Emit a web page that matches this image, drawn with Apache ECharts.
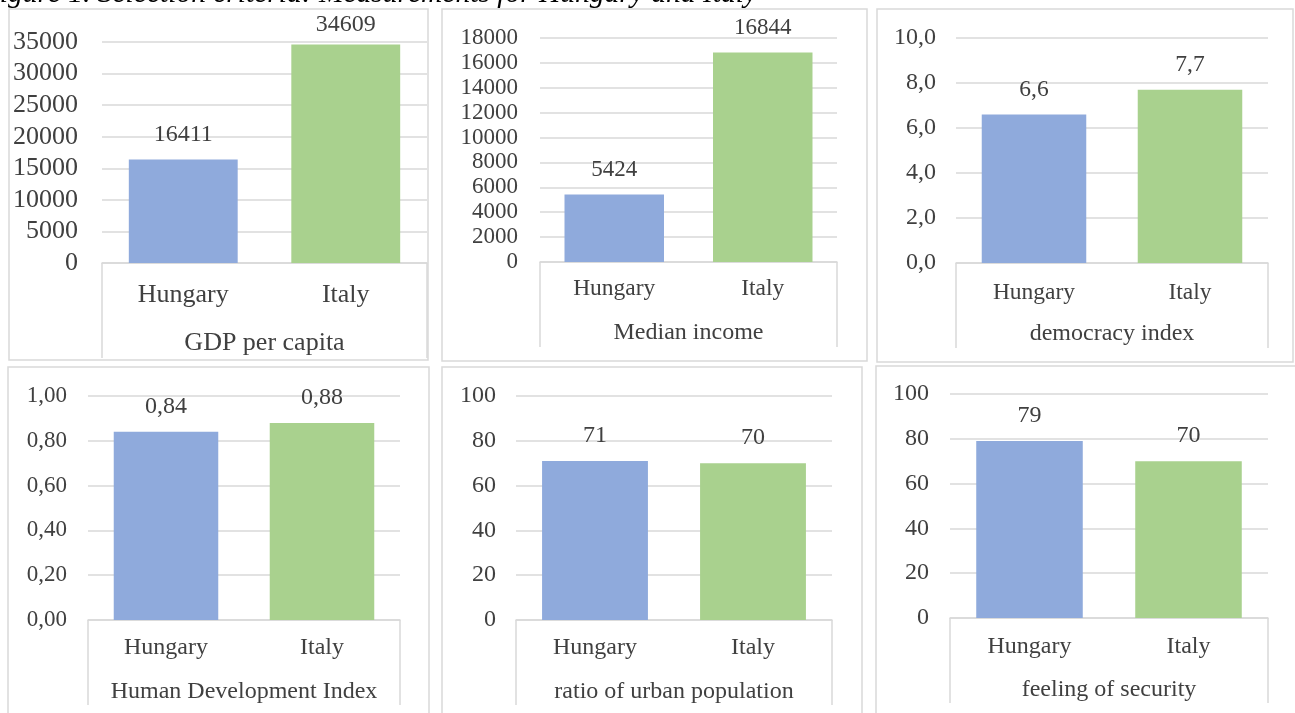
<!DOCTYPE html>
<html>
<head>
<meta charset="utf-8">
<script src="https://cdn.jsdelivr.net/npm/echarts@6/dist/echarts.min.js"></script>
<style>
html,body{margin:0;padding:0;background:#fff;}
#chart{width:1295px;height:713px;}
</style>
</head>
<body>
<div id="chart"></div>
<script>
// ---- data ----
const categories = ['Hungary', 'Italy'];
const gdpPerCapita = [16411, 34609];
const medianIncome = [5424, 16844];
const democracyIndex = [6.6, 7.7];
const humanDevelopmentIndex = [0.84, 0.88];
const urbanPopulationRatio = [71, 70];
const feelingOfSecurity = [79, 70];
const panelTitles = ['GDP per capita', 'Median income', 'democracy index',
  'Human Development Index', 'ratio of urban population', 'feeling of security'];
const axisMax = [35000, 18000, 10, 1, 100, 100];
const axisInterval = [5000, 2000, 2, 0.2, 20, 20];
const labelDecimals = [0, 0, 1, 2, 0, 0];
const figureCaption = 'Figure 1. Selection criteria: Measurements for Hungary and Italy';

const seriesValues = [gdpPerCapita, medianIncome, democracyIndex,
  humanDevelopmentIndex, urbanPopulationRatio, feelingOfSecurity];

// ---- layout (positions / styles) ----
const barColors = ['#8FAADC', '#A9D18E'];
const textColor = '#404040';
const lineColor = '#D9D9D9';
const font = 'Liberation Serif';
const layout = [
  {gx0:102, gx1:427, gy0:42, gy1:263, box:[9,9,428,360], lineBottom:358, yFs:26, xFs:26, nameFs:26, valFs:24, yMargin:24, xMargin:19, nameGap:67},
  {gx0:540, gx1:837, gy0:38, gy1:262, box:[442,9,867,361], lineBottom:347, yFs:23, xFs:23.5, nameFs:24, valFs:23, yMargin:22, xMargin:15, nameGap:59},
  {gx0:956, gx1:1268, gy0:38, gy1:263, box:[877,9,1293,362], lineBottom:348, yFs:24, xFs:23.5, nameFs:24, valFs:23.5, yMargin:20, xMargin:18, nameGap:59},
  {gx0:88, gx1:400, gy0:396, gy1:620, box:[8,367,429,722], lineBottom:705, yFs:23, xFs:24, nameFs:24, valFs:24, yMargin:21, xMargin:16, nameGap:60},
  {gx0:516, gx1:832, gy0:396, gy1:620, box:[442,367,862,722], lineBottom:705, yFs:24, xFs:24, nameFs:24, valFs:24, yMargin:20, xMargin:16, nameGap:60},
  {gx0:950, gx1:1268, gy0:394, gy1:618, box:[876,366,1302,722], lineBottom:703, yFs:24, xFs:24, nameFs:24, valFs:24, yMargin:21, xMargin:17, nameGap:60}
];

function fmt(v, d) { return Number(v).toFixed(d).replace('.', ','); }

const grids = [], xAxes = [], yAxes = [], series = [], graphics = [];

layout.forEach((L, i) => {
  grids.push({left: L.gx0, top: L.gy0, width: L.gx1 - L.gx0, height: L.gy1 - L.gy0,
    containLabel: false, outerBoundsMode: 'none'});
  xAxes.push({
    type: 'category', gridIndex: i, data: categories,
    axisLine: {show: true, lineStyle: {color: lineColor, width: 1.5}},
    axisTick: {show: false},
    splitLine: {show: false},
    axisLabel: {fontFamily: font, fontSize: L.xFs, color: textColor, margin: L.xMargin},
    name: panelTitles[i], nameLocation: 'middle', nameGap: L.nameGap,
    nameTextStyle: {fontFamily: font, fontSize: L.nameFs, color: textColor}
  });
  yAxes.push({
    type: 'value', gridIndex: i, min: 0, max: axisMax[i], interval: axisInterval[i],
    axisLine: {show: false}, axisTick: {show: false},
    splitLine: {show: true, lineStyle: {color: lineColor, width: 1.5}},
    axisLabel: {fontFamily: font, fontSize: L.yFs, color: textColor, margin: L.yMargin,
      formatter: v => fmt(v, labelDecimals[i])}
  });
  const h = L.gy1 - L.gy0;
  series.push({
    type: 'bar', xAxisIndex: i, yAxisIndex: i, barWidth: '67%',
    data: seriesValues[i].map((v, j) => {
      const barTop = L.gy1 - v / axisMax[i] * h;
      const minCenter = L.box[1] + 16;
      let dist = 13;
      if (barTop - 25 < minCenter) dist = Math.max(2, 13 - (minCenter - (barTop - 25)));
      return {value: v, itemStyle: {color: barColors[j]}, label: {distance: dist}};
    }),
    label: {show: true, position: 'top', fontFamily: font, fontSize: L.valFs, color: textColor,
      formatter: p => fmt(p.value, labelDecimals[i])},
    animation: false
  });
  const b = L.box;
  graphics.push({type: 'rect', shape: {x: b[0], y: b[1], width: b[2] - b[0], height: b[3] - b[1]},
    style: {fill: 'none', stroke: lineColor, lineWidth: 1.5}, silent: true});
  [L.gx0, L.gx1].forEach(x => graphics.push({type: 'line',
    shape: {x1: x, y1: L.gy1, x2: x, y2: L.lineBottom},
    style: {stroke: lineColor, lineWidth: 1.5}, silent: true}));
});

graphics.push({type: 'text', x: 757, y: -6,
  style: {text: figureCaption, font: 'italic 29.5px "Liberation Serif"', fill: '#000',
    align: 'right', verticalAlign: 'middle'}, silent: true});

const chart = echarts.init(document.getElementById('chart'), null, {renderer: 'canvas'});
chart.setOption({
  animation: false,
  backgroundColor: '#fff',
  grid: grids, xAxis: xAxes, yAxis: yAxes, series: series,
  graphic: graphics
});
</script>
</body>
</html>
